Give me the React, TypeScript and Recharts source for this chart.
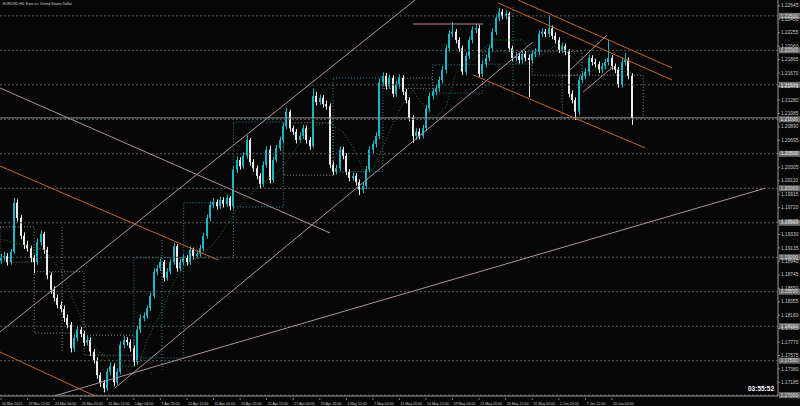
import React from 'react';
import { ComposedChart, Bar, Line, XAxis, YAxis, ReferenceLine, ReferenceArea } from 'recharts';

// EURUSD candles (two H4 bars per candle)
const firstOpen = 1.1895;
const closes = [
  1.1899, 1.1902, 1.1893, 1.1908, 1.1979, 1.1957, 1.1931, 1.1918, 1.1913, 1.1899,
  1.1893, 1.1922, 1.1934, 1.1911, 1.1874, 1.1853, 1.1841, 1.1831, 1.1825, 1.1812,
  1.1802, 1.1768, 1.1783, 1.1795, 1.1789, 1.1776, 1.1780, 1.1763, 1.1751, 1.1729,
  1.1718, 1.1710, 1.1734, 1.1742, 1.1719, 1.1734, 1.1773, 1.1780, 1.1777, 1.1768,
  1.1748, 1.1795, 1.1812, 1.1815, 1.1826, 1.1844, 1.1879, 1.1884, 1.1893, 1.1870,
  1.1879, 1.1893, 1.1916, 1.1884, 1.1893, 1.1899, 1.1893, 1.1911, 1.1902, 1.1905,
  1.1913, 1.1931, 1.1957, 1.1976, 1.1980, 1.1974, 1.1983, 1.1977, 1.1986, 1.1974,
  1.2027, 1.2041, 1.2032, 1.2047, 1.2070, 1.2038, 1.2029, 1.2018, 1.2006, 1.2034,
  1.2056, 1.2012, 1.2041, 1.2058, 1.2070, 1.2090, 1.2111, 1.2087, 1.2082, 1.2070,
  1.2076, 1.2087, 1.2070, 1.2061, 1.2134, 1.2125, 1.2131, 1.2122, 1.2119, 1.2034,
  1.2024, 1.2029, 1.2056, 1.2047, 1.2024, 1.2015, 1.2018, 1.2009, 1.1998, 1.2003,
  1.2027, 1.2056, 1.2064, 1.2076, 1.2154, 1.2163, 1.2148, 1.2160, 1.2137, 1.2151,
  1.2160, 1.2140, 1.2128, 1.2102, 1.2076, 1.2082, 1.2076, 1.2087, 1.2116, 1.2134,
  1.2140, 1.2145, 1.2157, 1.2172, 1.2203, 1.2224, 1.2227, 1.2215, 1.2203, 1.2169,
  1.2192, 1.2215, 1.2230, 1.2232, 1.2166, 1.2180, 1.2189, 1.2203, 1.2227, 1.2247,
  1.2256, 1.2250, 1.2253, 1.2203, 1.2189, 1.2192, 1.2186, 1.2195, 1.2189, 1.2186,
  1.2195, 1.2198, 1.2224, 1.2227, 1.2224, 1.2232, 1.2221, 1.2215, 1.2201, 1.2206,
  1.2198, 1.2137, 1.2128, 1.2111, 1.2157, 1.2163, 1.2169, 1.2189, 1.2183, 1.2180,
  1.2172, 1.2177, 1.2183, 1.2189, 1.2177, 1.2172, 1.2151, 1.2183, 1.2186, 1.2163,
  1.2102,
];
const highs = [
  1.1905, 1.1908, 1.1906, 1.1912, 1.1986, 1.1984, 1.1961, 1.1936, 1.1924, 1.1917,
  1.1903, 1.1927, 1.1939, 1.1937, 1.1915, 1.1878, 1.1858, 1.1846, 1.1836, 1.1830,
  1.1817, 1.1806, 1.1788, 1.1800, 1.1799, 1.1793, 1.1786, 1.1784, 1.1767, 1.1755,
  1.1733, 1.1722, 1.1739, 1.1748, 1.1746, 1.1739, 1.1778, 1.1786, 1.1784, 1.1781,
  1.1772, 1.1800, 1.1817, 1.1820, 1.1830, 1.1849, 1.1884, 1.1889, 1.1898, 1.1896,
  1.1884, 1.1897, 1.1921, 1.1919, 1.1898, 1.1904, 1.1903, 1.1916, 1.1914, 1.1910,
  1.1918, 1.1936, 1.1962, 1.1981, 1.1986, 1.1984, 1.1988, 1.1987, 1.1991, 1.1989,
  1.2032, 1.2046, 1.2045, 1.2052, 1.2077, 1.2073, 1.2042, 1.2033, 1.2022, 1.2039,
  1.2061, 1.2062, 1.2046, 1.2063, 1.2075, 1.2095, 1.2117, 1.2114, 1.2091, 1.2086,
  1.2081, 1.2092, 1.2091, 1.2074, 1.2145, 1.2140, 1.2136, 1.2135, 1.2127, 1.2123,
  1.2039, 1.2034, 1.2061, 1.2060, 1.2051, 1.2028, 1.2023, 1.2022, 1.2013, 1.2008,
  1.2032, 1.2061, 1.2069, 1.2081, 1.2159, 1.2168, 1.2167, 1.2165, 1.2164, 1.2156,
  1.2165, 1.2164, 1.2144, 1.2132, 1.2106, 1.2087, 1.2087, 1.2092, 1.2121, 1.2139,
  1.2145, 1.2150, 1.2162, 1.2177, 1.2208, 1.2229, 1.2241, 1.2231, 1.2219, 1.2207,
  1.2197, 1.2220, 1.2235, 1.2238, 1.2237, 1.2185, 1.2194, 1.2208, 1.2232, 1.2252,
  1.2262, 1.2260, 1.2258, 1.2256, 1.2207, 1.2197, 1.2196, 1.2200, 1.2199, 1.2194,
  1.2200, 1.2203, 1.2229, 1.2232, 1.2231, 1.2251, 1.2236, 1.2226, 1.2219, 1.2211,
  1.2210, 1.2202, 1.2142, 1.2132, 1.2162, 1.2168, 1.2174, 1.2194, 1.2193, 1.2188,
  1.2184, 1.2182, 1.2188, 1.2215, 1.2193, 1.2181, 1.2176, 1.2188, 1.2196, 1.2190,
  1.2167,
];
const lows = [
  1.1890, 1.1895, 1.1888, 1.1889, 1.1905, 1.1952, 1.1926, 1.1912, 1.1908, 1.1893,
  1.1877, 1.1889, 1.1917, 1.1905, 1.1868, 1.1847, 1.1836, 1.1826, 1.1820, 1.1806,
  1.1797, 1.1762, 1.1763, 1.1778, 1.1784, 1.1771, 1.1772, 1.1757, 1.1746, 1.1724,
  1.1712, 1.1704, 1.1706, 1.1729, 1.1713, 1.1715, 1.1730, 1.1768, 1.1772, 1.1763,
  1.1742, 1.1744, 1.1790, 1.1807, 1.1811, 1.1822, 1.1840, 1.1874, 1.1880, 1.1865,
  1.1866, 1.1875, 1.1889, 1.1879, 1.1880, 1.1889, 1.1888, 1.1889, 1.1897, 1.1898,
  1.1901, 1.1909, 1.1927, 1.1952, 1.1971, 1.1969, 1.1970, 1.1972, 1.1973, 1.1968,
  1.1970, 1.2022, 1.2027, 1.2028, 1.2043, 1.2033, 1.2024, 1.2013, 1.1999, 1.2002,
  1.2030, 1.2007, 1.2008, 1.2037, 1.2054, 1.2066, 1.2086, 1.2082, 1.2077, 1.2065,
  1.2066, 1.2072, 1.2065, 1.2056, 1.2058, 1.2120, 1.2121, 1.2117, 1.2114, 1.2029,
  1.2019, 1.2020, 1.2025, 1.2042, 1.2019, 1.2010, 1.2011, 1.2004, 1.1990, 1.1993,
  1.1999, 1.2023, 1.2051, 1.2059, 1.2071, 1.2149, 1.2143, 1.2144, 1.2132, 1.2132,
  1.2146, 1.2135, 1.2123, 1.2097, 1.2066, 1.2070, 1.2071, 1.2072, 1.2083, 1.2111,
  1.2129, 1.2135, 1.2140, 1.2152, 1.2167, 1.2198, 1.2219, 1.2210, 1.2198, 1.2164,
  1.2164, 1.2187, 1.2210, 1.2225, 1.2161, 1.2161, 1.2175, 1.2184, 1.2198, 1.2222,
  1.2242, 1.2245, 1.2245, 1.2198, 1.2184, 1.2184, 1.2181, 1.2181, 1.2184, 1.2132,
  1.2181, 1.2190, 1.2193, 1.2219, 1.2219, 1.2219, 1.2216, 1.2210, 1.2196, 1.2196,
  1.2193, 1.2132, 1.2123, 1.2099, 1.2106, 1.2152, 1.2158, 1.2164, 1.2178, 1.2175,
  1.2167, 1.2167, 1.2172, 1.2178, 1.2172, 1.2167, 1.2146, 1.2146, 1.2178, 1.2158,
  1.2092,
];

// moving average (green dotted), sampled where it could be read
const maIndex = [1, 9, 13, 16, 18, 23, 27, 30, 33, 36, 40, 42, 44, 47, 49, 51, 53, 55, 58, 60,
  65, 71, 78, 84, 88, 93, 98, 103, 106, 109, 112, 115, 120, 124, 126, 129, 131, 134, 137, 142,
  148, 153, 157, 159, 162, 165, 168, 172, 177, 183, 190];
const maValues = [1.1925, 1.1915, 1.1911, 1.1893, 1.1882, 1.1824, 1.1776, 1.1761, 1.1751, 1.1742,
  1.1741, 1.1751, 1.1780, 1.1809, 1.1828, 1.1853, 1.1871, 1.1886, 1.1896, 1.1900,
  1.1925, 1.1969, 1.2005, 1.2027, 1.2051, 1.2089, 1.2095, 1.2082, 1.2060, 1.2027,
  1.2027, 1.2060, 1.2114, 1.2143, 1.2128, 1.2109, 1.2103, 1.2118, 1.2167, 1.2186,
  1.2215, 1.2215, 1.2215, 1.2205, 1.2190, 1.2201, 1.2211, 1.2190, 1.2169, 1.2176, 1.2167];

const dateLabels = ['16 Mar 2021', '19 Mar 12:00', '24 Mar 04:00', '26 Mar 20:00', '31 Mar 12:00',
  '5 Apr 04:00', '7 Apr 20:00', '12 Apr 12:00', '15 Apr 04:00', '19 Apr 20:00', '22 Apr 12:00',
  '27 Apr 04:00', '29 Apr 20:00', '4 May 12:00', '7 May 04:00', '11 May 20:00', '14 May 12:00',
  '19 May 04:00', '21 May 20:00', '26 May 12:00', '31 May 04:00', '2 Jun 20:00', '7 Jun 12:00',
  '10 Jun 04:00'];
const dateTickIndex = dateLabels.map((_, k) => k * 8);

const priceTicks = [1.22645, 1.2245, 1.22255, 1.2206, 1.21865, 1.2167, 1.21475, 1.2128, 1.21085,
  1.2089, 1.20695, 1.205, 1.20305, 1.2011, 1.19915, 1.1972, 1.19525, 1.1933, 1.19135, 1.1894,
  1.18745, 1.1855, 1.18355, 1.1816, 1.17965, 1.1777, 1.17575, 1.1738, 1.17185];

// horizontal price levels (dotted) and the bid line
const levelPrices = [1.225, 1.22, 1.215, 1.21, 1.205, 1.2, 1.195, 1.19, 1.185, 1.18, 1.175, 1.17];
const bidPrice = 1.2102;

// weekly open/close boxes: start index, end index, upper price, lower price, bullish
const weekStart = [-0.3, 10, 25, 40, 55, 70, 85, 100, 115, 130, 145, 160, 169];
const weekEnd = [10, 25, 40, 55, 70, 85, 100, 115, 130, 145, 160, 175, 193.4];
const weekUpper = [1.1944, 1.1879, 1.1787, 1.1899, 1.1979, 1.2096, 1.2095, 1.2160, 1.2160, 1.2179, 1.2198, 1.2198, 1.2164];
const weekLower = [1.1893, 1.1790, 1.1758, 1.1754, 1.1899, 1.1973, 1.2019, 1.2024, 1.2145, 1.2138, 1.2180, 1.2164, 1.2103];
const weekBull = [false, false, false, true, true, true, false, true, false, true, true, false, false];

// loose dotted verticals: index, upper price, lower price, bullish
const markIndex = [18.4, 48.5, 154.2];
const markUpper = [1.1944, 1.1925, 1.2263];
const markLower = [1.1761, 1.1737, 1.2132];
const markBull = [false, true, true];

// trend lines: [index1, price1, index2, price2]
const mauveLines = [
  [-0.3, 1.17916, 124.7, 1.2273],
  [34.3, 1.17104, 160.2, 1.22121],
  [-0.3, 1.21454, 99.1, 1.19352],
  [16.0, 1.16988, 230.1, 1.2],
  [124.1, 1.22382, 145.2, 1.22382],
  [171.4, 1.21715, 182.5, 1.22223],
  [175.3, 1.21396, 184.3, 1.21759],
];
const orangeLines = [
  [-0.3, 1.20323, 65.4, 1.1896],
  [-0.3, 1.17626, 28.3, 1.16988],
  [149.7, 1.22687, 202.1, 1.2157],
  [155.7, 1.2273, 202.1, 1.21744],
  [142.2, 1.21643, 194.0, 1.20584],
];

const TEAL = '#1cb6c4';
const WHITE = '#ececec';
const MAUVE = '#b18ea1';
const ORANGE = '#c4661c';
const AXIS = '#c8c8c8';
const FONT = '"Liberation Sans", Arial, sans-serif';

const maMap: Record<number, number> = {};
maIndex.forEach((ix, k) => { maMap[ix] = maValues[k]; });

const data = closes.map((c, i) => ({
  i,
  open: i === 0 ? firstOpen : closes[i - 1],
  close: c,
  high: highs[i],
  low: lows[i],
  ma: maMap[i] ?? null,
}));

function Candle(props: any) {
  const { x, y, width, height, payload } = props;
  if (!payload || height == null) return null;
  const { open, close, high, low } = payload;
  const range = high - low || 1e-9;
  const py = (p: number) => y + ((high - p) / range) * height;
  const cx = Math.round(x + width / 2);
  const color = close >= open ? TEAL : WHITE;
  const top = py(Math.max(open, close));
  const bot = py(Math.min(open, close));
  return (
    <g>
      <rect x={cx} y={y} width={1} height={Math.max(height, 1)} fill={color} />
      <rect x={cx - 1} y={top} width={2} height={Math.max(bot - top, 1)} fill={color} />
    </g>
  );
}

function DateTick(props: any) {
  const { x, y, payload } = props;
  const k = dateTickIndex.indexOf(payload.value);
  return (
    <g>
      <line x1={x} x2={x} y1={y} y2={y + 2} stroke={AXIS} strokeWidth={0.6} />
      <text x={x + 1} y={y + 6.5} fontSize={3.6} fill={AXIS} fontFamily={FONT} textAnchor="start">
        {dateLabels[k]}
      </text>
    </g>
  );
}

function PriceTick(props: any) {
  const { x, y, payload } = props;
  return (
    <g>
      <line x1={x} x2={x + 2} y1={y} y2={y} stroke={AXIS} strokeWidth={0.6} />
      <text x={x + 3} y={y + 1.6} fontSize={4.8} fill={AXIS} fontFamily={FONT}>
        {Number(payload.value).toFixed(5)}
      </text>
    </g>
  );
}

function LevelTag(props: any) {
  const { viewBox, value } = props;
  if (!viewBox) return null;
  const x = viewBox.x + viewBox.width;
  const y = viewBox.y;
  return (
    <g>
      <rect x={x + 1} y={y - 3} width={21} height={6} fill="#6c6c6c" />
      <text x={x + 2.5} y={y + 1.7} fontSize={4.8} fill="#dadada" fontFamily={FONT}>
        {Number(value).toFixed(5)}
      </text>
    </g>
  );
}

export default function App() {
  return (
    <div style={{ position: 'absolute', left: 0, top: 0, width: 800, height: 406, background: '#060606', overflow: 'hidden' }}>
      <ComposedChart width={800} height={406} data={data} margin={{ top: 0, right: 0, bottom: 0, left: 0 }}>
        <XAxis
          dataKey="i"
          type="number"
          domain={[-0.3, 234]}
          allowDataOverflow
          ticks={dateTickIndex}
          interval={0}
          height={10}
          tickLine={false}
          tickSize={0}
          axisLine={{ stroke: '#9a9a9a' }}
          tick={<DateTick />}
        />
        <YAxis
          orientation="right"
          type="number"
          domain={[1.16988, 1.2273]}
          allowDataOverflow
          ticks={priceTicks}
          interval={0}
          width={22}
          tickLine={false}
          tickSize={0}
          tickMargin={0}
          axisLine={{ stroke: '#9a9a9a' }}
          tick={<PriceTick />}
        />

        {levelPrices.map((p) => (
          <ReferenceLine key={'lv' + p} y={p} stroke="#5a5a5a" strokeDasharray="2 2" label={<LevelTag value={p} />} />
        ))}

        {weekStart.map((s, k) => (
          <ReferenceArea
            key={'wk' + k}
            x1={s}
            x2={weekEnd[k]}
            y1={weekLower[k]}
            y2={weekUpper[k]}
            fill="none"
            fillOpacity={0}
            stroke={weekBull[k] ? '#1f8f98' : '#8a8a8a'}
            strokeDasharray="1 2"
            ifOverflow="hidden"
          />
        ))}
        {markIndex.map((m, k) => (
          <ReferenceLine
            key={'mk' + k}
            segment={[{ x: m, y: markUpper[k] }, { x: m, y: markLower[k] }]}
            stroke={markBull[k] ? '#1f8f98' : '#8a8a8a'}
            strokeDasharray="1 2"
            ifOverflow="hidden"
          />
        ))}

        <Bar dataKey={(d: any) => [d.low, d.high]} barSize={3} shape={<Candle />} isAnimationActive={false} />
        <Line
          dataKey="ma"
          connectNulls
          dot={false}
          stroke="#0f8a1a"
          strokeWidth={1}
          strokeDasharray="1 2"
          isAnimationActive={false}
        />

        <ReferenceLine y={bidPrice} stroke="#8e8e8e" strokeWidth={1} />

        {mauveLines.map((l, k) => (
          <ReferenceLine
            key={'mv' + k}
            segment={[{ x: l[0], y: l[1] }, { x: l[2], y: l[3] }]}
            stroke={MAUVE}
            strokeWidth={1}
            ifOverflow="hidden"
          />
        ))}
        {orangeLines.map((l, k) => (
          <ReferenceLine
            key={'or' + k}
            segment={[{ x: l[0], y: l[1] }, { x: l[2], y: l[3] }]}
            stroke={ORANGE}
            strokeWidth={1}
            ifOverflow="hidden"
          />
        ))}
      </ComposedChart>

      <div style={{ position: 'absolute', left: 3, top: 2, fontSize: 3.6, color: '#d0d0d0', fontFamily: FONT, whiteSpace: 'nowrap' }}>
        EURUSD,H4: Euro vs. United States Dollar
      </div>
      <div style={{ position: 'absolute', left: 748, top: 385, fontSize: 6.5, fontWeight: 'bold', color: '#ffffff', fontFamily: FONT }}>
        03:55:52
      </div>
    </div>
  );
}
